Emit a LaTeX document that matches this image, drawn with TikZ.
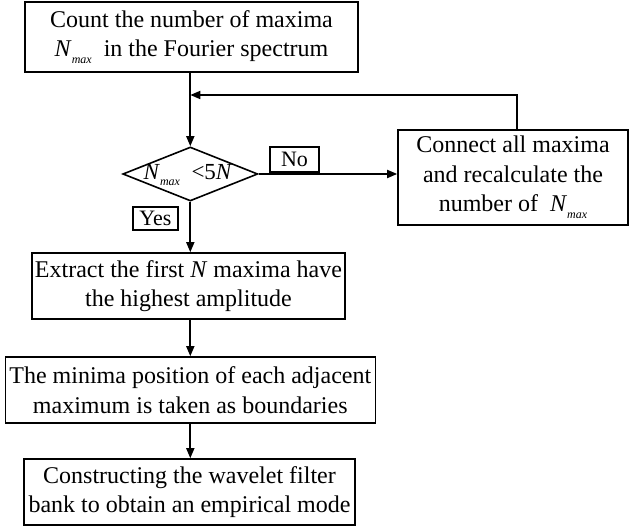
\documentclass[tikz,border=0pt]{standalone}
\usepackage{fontspec}
\setmainfont{Liberation Serif}
\usetikzlibrary{shapes.geometric,arrows.meta}
\newcommand{\nmaxsym}{\textit{N}\raisebox{-0.6ex}{\fontsize{12}{12}\selectfont\textit{max}}}
\tikzset{
  flowbox/.style={draw, line width=1.6pt, rectangle, inner sep=0pt, align=center,
    font=\fontsize{24}{29.5}\selectfont},
  tagbox/.style={draw, line width=1.3pt, rectangle, inner sep=0pt,
    font=\fontsize{22}{24}\selectfont},
  flowarrow/.style={line width=1.7pt, -{Triangle[length=10pt,width=8pt]}}
}
\begin{document}
\begin{tikzpicture}[x=1pt,y=-1pt]
\useasboundingbox (0,0) rectangle (629,526);

\node[flowbox, minimum width=333pt, minimum height=70pt] (count) at (191.5,37)
  {Count the number of maxima\\ \nmaxsym\ \ in the Fourier spectrum};

\node[draw, line width=1.6pt, diamond, inner sep=0pt, minimum width=135pt,
  minimum height=54pt] (test) at (190.3,174) {};
\node[font=\fontsize{23}{24}\selectfont, inner sep=0pt] (testtext) at (188,175)
  {\nmaxsym\ \ {<}5\textit{N}};

\node[flowbox, minimum width=230pt, minimum height=95pt] (connect) at (513,177.5)
  {Connect all maxima\\ and recalculate the\\ number of \ \nmaxsym};

\node[tagbox, minimum width=49pt, minimum height=25pt] (no) at (294.5,159.5) {No};
\node[tagbox, minimum width=45pt, minimum height=23pt] (yes) at (155.5,218.5) {Yes};

\node[flowbox, minimum width=313pt, minimum height=66pt] (extract) at (188.5,286)
  {Extract the first \textit{N} maxima have\\ the highest amplitude};
\node[flowbox, minimum width=370pt, minimum height=66pt] (minima) at (190.3,390)
  {The minima position of each adjacent\\ maximum is taken as boundaries};
\node[flowbox, minimum width=331pt, minimum height=66pt] (filter) at (189.5,492)
  {Constructing the wavelet filter\\ bank to obtain an empirical mode};

% main flow
\draw[flowarrow] (count.south -| test.north) -- (test.north);
\draw[flowarrow] (test.east) -- (test.east -| connect.west);
\draw[flowarrow] (test.south) -- (test.south |- extract.north);
\draw[flowarrow] (extract.south -| test.south) -- (test.south |- minima.north);
\draw[flowarrow] (minima.south -| test.south) -- (test.south |- filter.north);

% feedback loop back to the main line
\coordinate (loopcorner) at (517,95);
\draw[flowarrow] (connect.north -| loopcorner) -- (loopcorner) -- (loopcorner -| test.north);
\end{tikzpicture}
\end{document}
